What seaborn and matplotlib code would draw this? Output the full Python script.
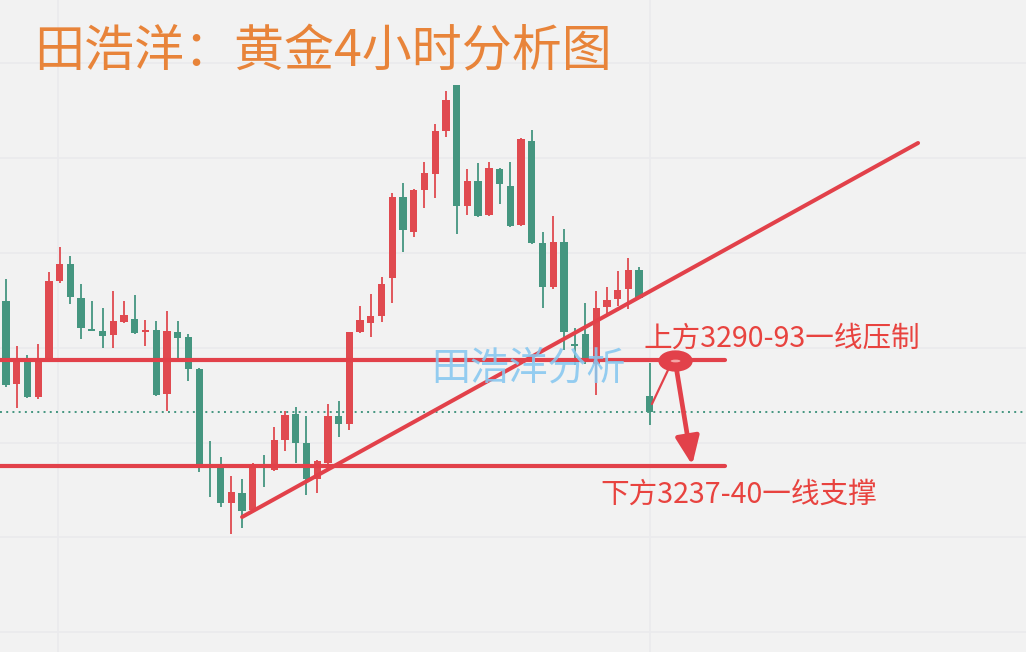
import numpy as np
import pandas as pd
import matplotlib
matplotlib.use("Agg")
import matplotlib.pyplot as plt
from matplotlib.patches import Ellipse
import seaborn as sns

# ---- 4H gold candles (open / high / low / close) ----
opens = [3321.5, 3280, 3292.5, 3273.5, 3293, 3331.5, 3340, 3323, 3307.5, 3306.5,
         3304.5, 3311, 3312.5, 3306, 3307, 3275, 3306, 3303.5, 3287.5, 3239.5,
         3238, 3220.5, 3225.5, 3217, 3239, 3237, 3252, 3265, 3250.5, 3232.5,
         3240.5, 3264, 3260, 3306, 3310.5, 3314, 3333, 3373.5, 3356, 3377,
         3385, 3406.5, 3429.5, 3369, 3381.5, 3364.5, 3387.5, 3379, 3359.5, 3401.5,
         3350.5, 3328.5, 3351, 3300, 3305, 3290, 3318.5, 3322.5, 3327.5, 3337,
         3274]
highs = [3332.5, 3299, 3294.5, 3300, 3336, 3348.5, 3344, 3330, 3321.5, 3318,
         3326.5, 3321.5, 3324.5, 3312, 3311.5, 3316.5, 3311.5, 3305, 3288, 3251.5,
         3243.5, 3234, 3232.5, 3240.5, 3244.5, 3258.5, 3266.5, 3268.5, 3264, 3242,
         3270, 3271.5, 3306, 3319, 3325, 3333.5, 3375.5, 3380.5, 3377.5, 3391,
         3410, 3426.5, 3429.5, 3387.5, 3390.5, 3391, 3388, 3391, 3403, 3407,
         3356, 3364, 3357.5, 3308, 3320.5, 3326.5, 3328.5, 3336.5, 3343, 3338.5,
         3290.5]
lows = [3278.5, 3268, 3273, 3272.5, 3292.5, 3330.5, 3320, 3302.5, 3306.5, 3298,
        3298, 3310.5, 3305, 3299, 3274, 3266.5, 3293, 3281.5, 3236, 3223.5,
        3218.5, 3205, 3208, 3216.5, 3228.5, 3236.5, 3246.5, 3240.5, 3224.5, 3225.5,
        3240, 3253.5, 3257, 3305.5, 3303.5, 3311, 3320.5, 3346, 3353.5, 3368,
        3373, 3403.5, 3355, 3364.5, 3363.5, 3364, 3370, 3358.5, 3359, 3350,
        3318, 3327.5, 3297, 3289.5, 3290, 3274.5, 3314.5, 3319, 3317.5, 3322.5,
        3259.5]
closes = [3279.5, 3292, 3273.5, 3292.5, 3331.5, 3340, 3323.5, 3308, 3306.5, 3304,
          3311.5, 3314.5, 3305.5, 3307, 3274.5, 3306.5, 3303, 3287.5, 3240, 3238.5,
          3220.5, 3226, 3216.5, 3240, 3238, 3252, 3264.5, 3250.5, 3232.5, 3241.5,
          3264, 3260, 3306, 3312, 3314, 3330, 3373.5, 3357, 3377, 3385.5,
          3406.5, 3422, 3369, 3381.5, 3364, 3388, 3380, 3359, 3402.5, 3350.5,
          3328.5, 3351, 3306, 3299, 3291, 3318, 3322, 3327, 3337, 3323,
          3266]

# ---- analysis levels ----
resistance = 3292
support = 3239
trend_x = [22.0, 85.0]
trend_y = [3213.5, 3400.5]

title_text = "田浩洋：黄金4小时分析图"
upper_note = "上方3290-93一线压制"
lower_note = "下方3237-40一线支撑"
watermark = "田浩洋分析"

BG = "#f2f2f2"
GRID = "#eaeaed"
UP = "#e04a50"
DOWN = "#459680"
MARK = "#e2414a"
NOTE = "#e8433f"
TITLE = "#e8843a"
WATER = "#86c7f0"

sns.set_theme(style="whitegrid", rc={
    "axes.facecolor": BG, "figure.facecolor": BG,
    "grid.color": GRID, "grid.linewidth": 1.2,
})
plt.rcParams["font.family"] = ["Noto Sans CJK SC", "DejaVu Sans"]

df = pd.DataFrame({"open": opens, "high": highs, "low": lows, "close": closes})
df["idx"] = np.arange(len(df))
df["up"] = df["close"] >= df["open"]
colors = np.where(df["up"], UP, DOWN)

fig = plt.figure(figsize=(10.26, 6.52), dpi=100)
ax = fig.add_axes([0, 0, 1, 1])
x0, x1 = -0.56, 95.06
ax.set_xlim(x0, x1)
ax.set_ylim(3146, 3472)
ax.set_yticks([3156, 3203.5, 3250.5, 3298, 3345.5, 3393, 3440.5])
ax.set_xticks([4.85, 60])
ax.tick_params(labelleft=False, labelbottom=False, length=0)
for s in ax.spines.values():
    s.set_visible(False)
ax.set_axisbelow(True)

# last-price dotted line
sns.lineplot(x=[x0, x1], y=[closes[-1]] * 2, ax=ax, color=DOWN,
             linestyle=(0, (1, 2.2)), linewidth=1.4, zorder=1.5)

# candles
ax.vlines(df["idx"], df["low"], df["high"], colors=colors, linewidth=1.3, zorder=2)
body_lo = np.minimum(df["open"], df["close"])
body_h = np.maximum((df["close"] - df["open"]).abs(), 0.8)
ax.bar(df["idx"], body_h, bottom=body_lo, width=0.68, color=colors,
       linewidth=0, zorder=3)

# support / resistance and trend line
lvl_x = [x0, 67.0]
sns.lineplot(x=lvl_x, y=[resistance] * 2, ax=ax, color=MARK, linewidth=3.0, zorder=4)
sns.lineplot(x=lvl_x, y=[support] * 2, ax=ax, color=MARK, linewidth=3.0, zorder=4)
sns.lineplot(x=trend_x, y=trend_y, ax=ax, color=MARK, linewidth=2.9, zorder=4)

# circled level with pointer and arrow
ax.add_patch(Ellipse((62.4, resistance - 0.5), 3.0, 9.6, facecolor=MARK,
                     edgecolor=MARK, linewidth=1.5, zorder=6))
ax.add_patch(Ellipse((62.4, resistance - 0.5), 0.9, 1.4, facecolor="#f4a6a6",
                     edgecolor="none", zorder=7))
ax.plot([61.7, 60.2], [3287, 3270], color=MARK, linewidth=1.6, zorder=6)
ax.annotate("", xy=(63.95, support + 0.5), xytext=(62.5, 3287),
            arrowprops=dict(arrowstyle="-|>,head_length=0.85,head_width=0.36",
                            mutation_scale=20, lw=3.4, color=MARK,
                            shrinkA=0, shrinkB=0),
            zorder=6)

ax.text(59.4, 3302.5, upper_note, color=NOTE, fontsize=20.6, ha="left", va="center", zorder=8)
ax.text(55.36, 3224.5, lower_note, color=NOTE, fontsize=20.6, ha="left", va="center", zorder=8)

ax.text(48.65, 3288, watermark, color=WATER, alpha=0.88, fontsize=28,
        ha="center", va="center", zorder=5)

fig.text(0.033, 0.92, title_text, color=TITLE, fontsize=36, ha="left", va="center")

fig.savefig("out.png", dpi=100, facecolor=BG)
